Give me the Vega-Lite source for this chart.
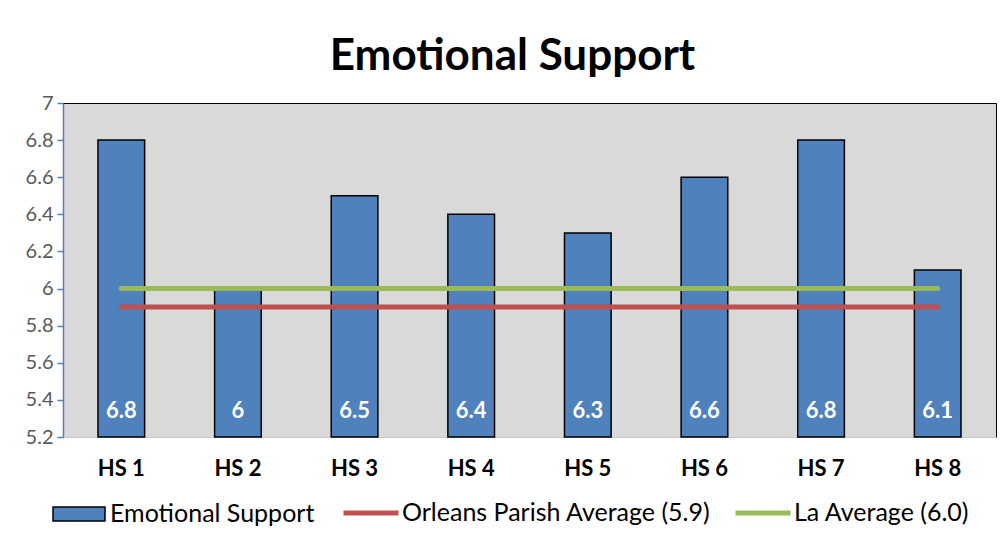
{
  "$schema": "https://vega.github.io/schema/vega-lite/v6.json",
  "width": 933,
  "height": 334,
  "autosize": {"type": "none"},
  "padding": {"left": 63, "top": 103, "right": 10, "bottom": 120},
  "background": "white",
  "title": {
    "text": "Emotional Support",
    "font": "Lato",
    "fontSize": 44,
    "fontWeight": "bold",
    "color": "black",
    "anchor": "middle",
    "baseline": "alphabetic",
    "offset": 33,
    "dy": 54,
    "dx": -17
  },
  "datasets": {
    "bars": [
      {"school": "HS 1", "series": "Emotional Support", "value": 6.8},
      {"school": "HS 2", "series": "Emotional Support", "value": 6.0},
      {"school": "HS 3", "series": "Emotional Support", "value": 6.5},
      {"school": "HS 4", "series": "Emotional Support", "value": 6.4},
      {"school": "HS 5", "series": "Emotional Support", "value": 6.3},
      {"school": "HS 6", "series": "Emotional Support", "value": 6.6},
      {"school": "HS 7", "series": "Emotional Support", "value": 6.8},
      {"school": "HS 8", "series": "Emotional Support", "value": 6.1}
    ],
    "lines": [
      {"school": "HS 1", "series": "Orleans Parish Average (5.9)", "value": 5.9},
      {"school": "HS 2", "series": "Orleans Parish Average (5.9)", "value": 5.9},
      {"school": "HS 3", "series": "Orleans Parish Average (5.9)", "value": 5.9},
      {"school": "HS 4", "series": "Orleans Parish Average (5.9)", "value": 5.9},
      {"school": "HS 5", "series": "Orleans Parish Average (5.9)", "value": 5.9},
      {"school": "HS 6", "series": "Orleans Parish Average (5.9)", "value": 5.9},
      {"school": "HS 7", "series": "Orleans Parish Average (5.9)", "value": 5.9},
      {"school": "HS 8", "series": "Orleans Parish Average (5.9)", "value": 5.9},
      {"school": "HS 1", "series": "La Average (6.0)", "value": 6.0},
      {"school": "HS 2", "series": "La Average (6.0)", "value": 6.0},
      {"school": "HS 3", "series": "La Average (6.0)", "value": 6.0},
      {"school": "HS 4", "series": "La Average (6.0)", "value": 6.0},
      {"school": "HS 5", "series": "La Average (6.0)", "value": 6.0},
      {"school": "HS 6", "series": "La Average (6.0)", "value": 6.0},
      {"school": "HS 7", "series": "La Average (6.0)", "value": 6.0},
      {"school": "HS 8", "series": "La Average (6.0)", "value": 6.0}
    ]
  },
  "config": {
    "view": {"fill": "#d9d9d9", "stroke": "black", "strokeWidth": 1},
    "font": "Lato"
  },
  "encoding": {
    "x": {
      "field": "school",
      "type": "nominal",
      "sort": null,
      "scale": {"paddingInner": 0.6, "paddingOuter": 0.3},
      "axis": {
        "title": null,
        "labelAngle": 0,
        "labelFont": "Lato",
        "labelFontSize": 22,
        "labelFontWeight": "bold",
        "labelColor": "black",
        "ticks": false,
        "tickSize": 0,
        "labelPadding": 21,
        "domainColor": "#c8c8c8",
        "domainWidth": 1
      }
    },
    "y": {
      "field": "value",
      "type": "quantitative",
      "scale": {"domain": [5.2, 7], "zero": false, "nice": false},
      "axis": {
        "title": null,
        "values": [5.2, 5.4, 5.6, 5.8, 6.0, 6.2, 6.4, 6.6, 6.8, 7.0],
        "format": "~g",
        "grid": false,
        "labelFont": "Lato",
        "labelFontSize": 20,
        "labelColor": "#595959",
        "labelPadding": 4,
        "tickSize": 6,
        "tickColor": "#4f81bd",
        "tickWidth": 1.5,
        "domainColor": "#4f81bd",
        "domainWidth": 1.5
      }
    }
  },
  "layer": [
    {
      "data": {"name": "bars"},
      "mark": {"type": "bar", "stroke": "black", "strokeWidth": 1.5},
      "encoding": {
        "y2": {"datum": 5.2},
        "fill": {
          "field": "series",
          "type": "nominal",
          "scale": {"domain": ["Emotional Support"], "range": ["#4f81bd"]},
          "legend": {
            "orient": "none",
            "legendX": -11,
            "legendY": 384,
            "direction": "horizontal",
            "title": null,
            "symbolSize": 2704,
            "symbolType": "M-1,-0.27H1V0.27H-1Z",
            "symbolStrokeColor": "black",
            "symbolStrokeWidth": 1.5,
            "symbolOpacity": 1,
            "labelFont": "Lato",
            "labelFontSize": 25,
            "labelColor": "black",
            "labelOffset": 4,
            "labelLimit": 500
          }
        }
      }
    },
    {
      "data": {"name": "lines"},
      "mark": {"type": "line", "strokeWidth": 5, "strokeCap": "round"},
      "encoding": {
        "stroke": {
          "field": "series",
          "type": "nominal",
          "scale": {
            "domain": ["Orleans Parish Average (5.9)", "La Average (6.0)"],
            "range": ["#c0504d", "#9bbb59"]
          },
          "legend": {
            "orient": "none",
            "legendX": 278,
            "legendY": 380,
            "direction": "horizontal",
            "title": null,
            "symbolSize": 3025,
            "symbolType": "M-1,0H1",
            "symbolStrokeWidth": 5,
            "symbolOpacity": 1,
            "labelFont": "Lato",
            "labelFontSize": 25,
            "labelColor": "black",
            "labelOffset": 1,
            "labelLimit": 500,
            "columnPadding": 14
          }
        }
      }
    },
    {
      "data": {"name": "bars"},
      "mark": {
        "type": "text",
        "color": "white",
        "font": "Lato",
        "fontSize": 22,
        "fontWeight": "bold",
        "baseline": "middle",
        "dy": -26
      },
      "encoding": {
        "y": {"datum": 5.2},
        "text": {"field": "value", "type": "quantitative", "format": "~g"}
      }
    }
  ]
}
